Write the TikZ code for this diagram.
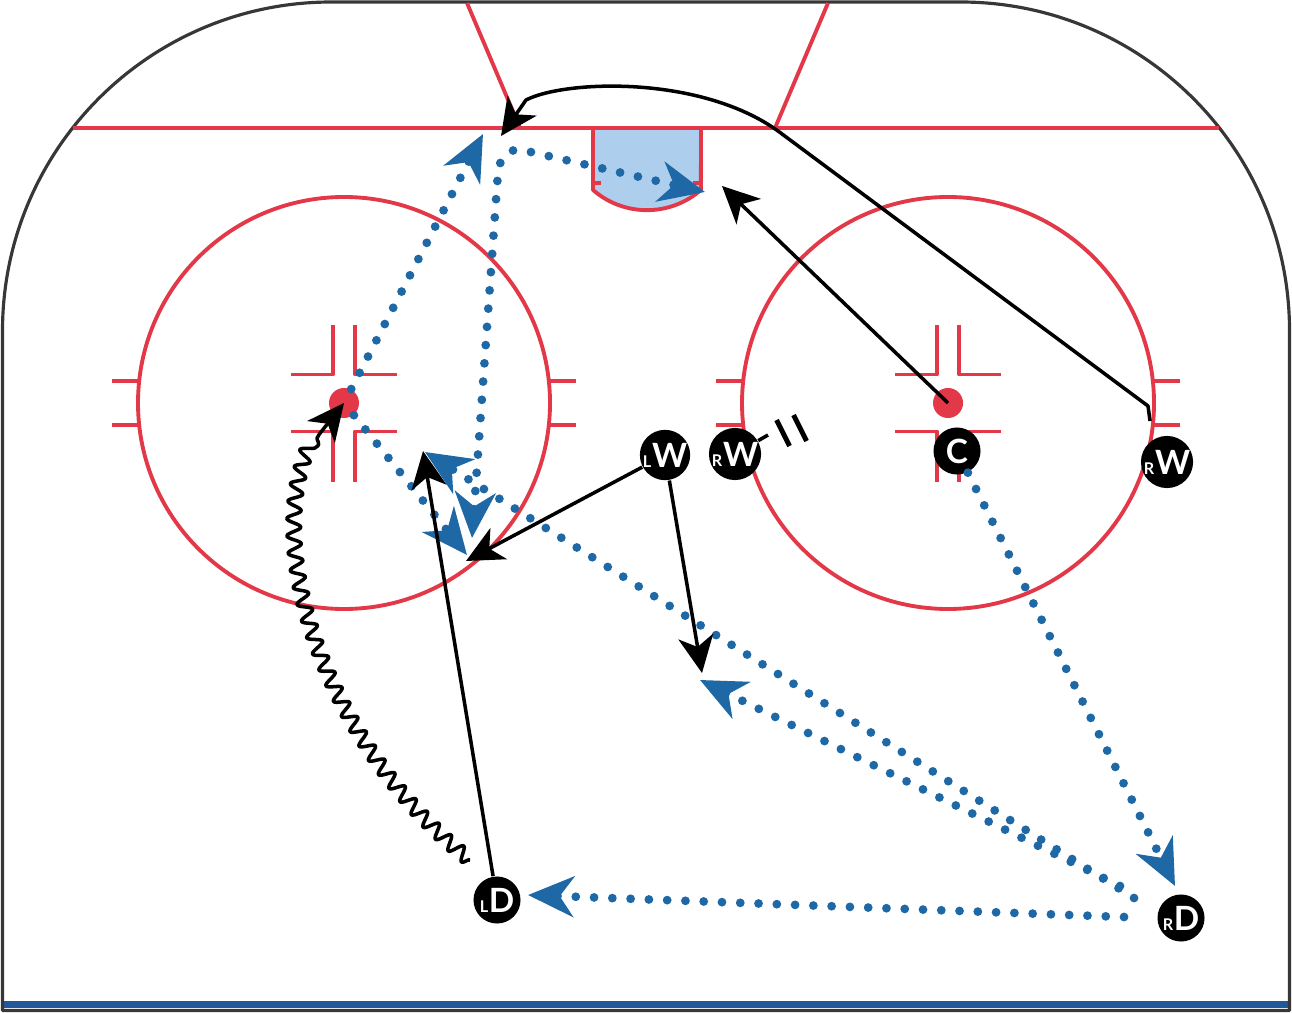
\documentclass[tikz,border=0pt]{standalone}
\usepackage{fontspec}
\newfontfamily\plfont{Lato}
\usetikzlibrary{arrows.meta,decorations.pathmorphing}
\definecolor{rinkred}{RGB}{226,56,72}
\definecolor{passblue}{RGB}{30,104,166}
\definecolor{creaseblue}{RGB}{174,206,238}
\definecolor{boardgray}{RGB}{55,55,55}
\definecolor{lineblue}{RGB}{33,88,156}
\newcommand{\plr}[2]{{\fontsize{4.6}{4.6}\selectfont #1}\kern.2pt{\fontsize{9.5}{9.5}\selectfont #2}}
\begin{document}
\begin{tikzpicture}[x=0.01cm,y=0.01cm,line join=round,
	redline/.style={rinkred,line width=1.1pt},
	skate/.style={line width=1pt,-{Stealth[length=10.5pt,width=10pt,inset=3pt]}},
	passtip/.style={Stealth[length=13pt,width=11.5pt,inset=4pt]},
	pass/.style={passblue,line width=2.5pt,line cap=round,dash pattern=on 0pt off 5.2pt,-{Stealth[length=13pt,width=11.5pt,inset=4pt]}},
	player/.style={circle,fill=black,minimum size=0.47cm,inner sep=0pt,text=white,font=\plfont\bfseries}]
	\useasboundingbox (0,0) rectangle (1292,-1013);
	%Rink
	\draw[lineblue,line width=0.07cm] (3,-1004)--(1289,-1004);
	\draw[boardgray,line width=0.9pt] (2.5,-1010.5)--(2.5,-331) arc[start angle=180,end angle=90,radius=329]
		--(960.5,-2) arc[start angle=90,end angle=0,radius=329]--(1289.5,-1010.5)--cycle;
	%Crease
	\draw[redline,fill=creaseblue] (593,-128)--(593,-190) arc[start angle=229,end angle=311,radius=82.2]--(701,-128);
	\draw[redline] (593,-183)--(601,-183) (693,-183)--(701,-183);
	%Goal line
	\draw[redline] (73,-128)--(1219,-128);
	\draw[redline] (467,-3)--(520,-128) (828,-3)--(775,-128);
	%Faceoff circles
	\foreach \cx/\nm in {344/ldot,948/rdot}{
		\draw[redline] (\cx,-403) circle[radius=206];
		\draw[redline] (\cx-232,-381)--(\cx-206,-381) (\cx-232,-425)--(\cx-206,-425)
			(\cx+206,-381)--(\cx+232,-381) (\cx+206,-425)--(\cx+232,-425);
		\draw[redline] (\cx-53,-374.5)--(\cx-11,-374.5)--(\cx-11,-325);
		\draw[redline] (\cx+53,-374.5)--(\cx+11,-374.5)--(\cx+11,-325);
		\draw[redline] (\cx-53,-431.5)--(\cx-11,-431.5)--(\cx-11,-482);
		\draw[redline] (\cx+53,-431.5)--(\cx+11,-431.5)--(\cx+11,-482);
		\node[circle,fill=rinkred,minimum size=0.3cm,inner sep=0pt] (\nm) at (\cx,-403) {};
	}
	%Players
	\node[player] (lw) at (665,-455) {\plr{L}{W}};
	\node[player] (rw1) at (735,-454) {\plr{R}{W}};
	\node[player] (c) at (957,-451) {\fontsize{9.5}{9.5}\selectfont C};
	\node[player] (rw2) at (1167,-462) {\plr{R}{W}};
	\node[player] (ld) at (497,-900) {\plr{L}{D}};
	\node[player] (rd) at (1181,-918) {\plr{R}{D}};
	%Points
	\path (722,-186) coordinate (cnet)
		(1150,-421) coordinate (rwa)
		(501,-136) coordinate (rwb)
		(466,-561) coordinate (lwa)
		(702,-673) coordinate (lwb)
		(423,-451) coordinate (lda)
		(470,-860) coordinate (lds)
		(768,-435) coordinate (rwstop)
		(483,-134) coordinate (pa)
		(467,-555) coordinate (pb)
		(472,-538) coordinate (pc)
		(705,-192) coordinate (pd)
		(1175,-886) coordinate (pe)
		(528,-895) coordinate (pf)
		(425,-452) coordinate (pg)
		(700,-680) coordinate (ph)
		(1124,-917) coordinate (rda)
		(1120,-886) coordinate (rdb)
		(1134,-898) coordinate (rdc);
	%Passes
	\draw[pass] (ldot)--(pa);
	\draw[pass] (ldot)--(pb);
	\draw[pass,{Stealth[length=13pt,width=11.5pt,inset=4pt]}-{Stealth[length=13pt,width=11.5pt,inset=4pt]}]
		(pc)--(498,-172) to[out=86,in=167] (522,-150)--(pd);
	\draw[pass] (c)--(pe);
	\draw[pass] (rda)--(pf);
	\draw[pass] (rdc)--(pg);
	\draw[pass] (rdb)--(ph);
	%Skating
	\draw[skate] (rdot.center)--(cnet);
	\draw[skate] (rwa)--(1148,-406)--(778,-131) .. controls (700,-75) and (565,-80) .. (526,-100)--(rwb);
	\draw[skate] (lw)--(lwa);
	\draw[skate] (lw)--(lwb);
	\draw[skate] (ld)--(lda);
	\draw[skate,decorate,decoration={snake,amplitude=0.7mm,segment length=1.7mm,post length=4mm}]
		(lds) .. controls (320,-740) and (240,-500) .. (ldot.center);
	\draw[line width=1pt] (rw1)--(rwstop);
	\draw[line width=1.4pt] (776.5,-420)--(789.5,-446) (793.5,-415)--(806.5,-441);
\end{tikzpicture}
\end{document}
